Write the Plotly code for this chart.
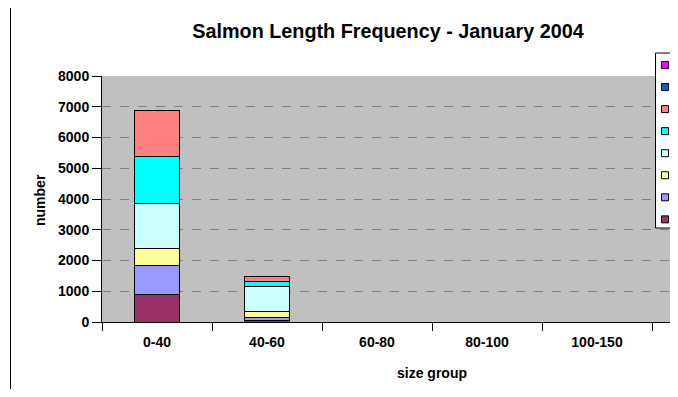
import plotly.graph_objects as go

categories = ["0-40", "40-60", "60-80", "80-100", "100-150"]
# series listed bottom of stack to top
series_names = ["Cage O", "Trial", "Kames", "Lochs", "Harbour", "Coast", "Vest", "Central"]
series_colors = ["#993366", "#9999FF", "#FFFF99", "#CCFFFF", "#00FFFF", "#FF8080", "#0066CC", "#FF00FF"]
series_values = [
    [910, 60, 0, 0, 0],
    [930, 90, 0, 0, 0],
    [535, 180, 0, 0, 0],
    [1475, 820, 0, 0, 0],
    [1520, 155, 0, 0, 0],
    [1510, 160, 0, 0, 0],
    [0, 0, 0, 0, 0],
    [0, 0, 0, 0, 0],
]
y_ticks = [0, 1000, 2000, 3000, 4000, 5000, 6000, 7000, 8000]

OFF = 8  # page body margin
W, H = 662, 381
L, T = 102 - OFF, 76 - OFF
PLOT_BOTTOM = 322 - OFF
R = 0
B = H - PLOT_BOTTOM
PW, PH = W - L - R, H - T - B
cat_px = 110.0

def px_x(px):
    return (px - OFF - L) / PW

def px_y(py):
    return (H - B - (py - OFF)) / PH

FONT = "Liberation Sans, Arial, sans-serif"

fig = go.Figure()
for name, color, vals in zip(series_names, series_colors, series_values):
    fig.add_trace(go.Bar(
        x=categories, y=vals, name=name,
        marker=dict(color=color, line=dict(color="black", width=1)),
        showlegend=False,
    ))

shapes = []
annotations = []
shapes.append(dict(type="rect", xref="paper", yref="paper", x0=px_x(10.5), x1=px_x(900), y0=px_y(4.5), y1=px_y(600),
                   line=dict(color="black", width=1), fillcolor="rgba(0,0,0,0)", layer="below"))

leg_left, leg_top, leg_bottom = 655.5, 53, 228
shapes.append(dict(type="rect", xref="paper", yref="paper", x0=px_x(leg_left), x1=px_x(760),
                   y0=px_y(leg_top), y1=px_y(leg_bottom), line=dict(color="black", width=1), fillcolor="white"))
entry_y0, entry_dy = 65, 22.05
for i, idx in enumerate(reversed(range(len(series_names)))):
    cy = entry_y0 + i * entry_dy
    shapes.append(dict(type="rect", xref="paper", yref="paper", x0=px_x(661.5), x1=px_x(668.5),
                       y0=px_y(cy - 3.5), y1=px_y(cy + 3.5), line=dict(color="black", width=1),
                       fillcolor=series_colors[idx]))
    annotations.append(dict(xref="paper", yref="paper", x=px_x(671), y=px_y(cy), xanchor="left", yanchor="middle",
                            text="<b>" + series_names[idx] + "</b>", showarrow=False,
                            font=dict(family=FONT, size=14, color="black")))

# axis titles placed as in the reference
annotations.append(dict(xref="paper", yref="paper", x=px_x(40), y=px_y(200), xanchor="center", yanchor="middle",
                        text="<b>number</b>", textangle=-90, showarrow=False,
                        font=dict(family=FONT, size=14, color="black")))
annotations.append(dict(xref="paper", yref="paper", x=px_x(432), y=px_y(373), xanchor="center", yanchor="middle",
                        text="<b>size group</b>", showarrow=False,
                        font=dict(family=FONT, size=14, color="black")))

fig.update_layout(
    width=W, height=H,
    margin=dict(l=L, r=R, t=T, b=B, autoexpand=False),
    paper_bgcolor="white", plot_bgcolor="#C0C0C0",
    barmode="stack", bargap=0.594,
    title=dict(text="<b>Salmon Length Frequency - January 2004</b>", x=(388 - OFF) / W, xref="container",
               xanchor="center", y=1 - (31 - OFF) / H, yanchor="middle", font=dict(family=FONT, size=19.8, color="black")),
    font=dict(family=FONT, color="black"),
    shapes=shapes, annotations=annotations,
    showlegend=False,
)
fig.update_xaxes(
    range=[-0.5, -0.5 + PW / cat_px], showline=True, linecolor="black", linewidth=1,
    ticks="outside", ticklen=8, tickcolor="black", tickson="boundaries",
    tickfont=dict(family=FONT, size=14), showgrid=False, ticklabelstandoff=7,
    tickprefix="<b>", ticksuffix="</b>",
)
fig.update_yaxes(
    range=[0, 8000], tickvals=y_ticks, ticktext=["<b>%d</b>" % v for v in y_ticks],
    showline=True, linecolor="black", linewidth=1,
    ticks="outside", ticklen=9, tickcolor="black", tickfont=dict(family=FONT, size=14),
    showgrid=True, gridcolor="#808080", griddash="dash", gridwidth=1, zeroline=False,
)
fig.write_html("out.html")
